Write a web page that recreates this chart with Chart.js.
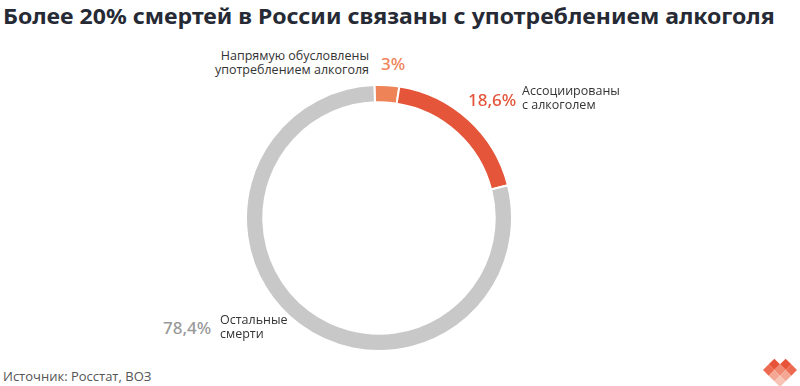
<!DOCTYPE html>
<html>
<head>
<meta charset="utf-8">
<script src="https://cdn.jsdelivr.net/npm/chart.js@4/dist/chart.umd.min.js"></script>
<style>
  html, body { margin: 0; padding: 0; background: #fff; }
  body { width: 800px; height: 386px; position: relative; overflow: hidden; font-family: "Open Sans", sans-serif; }
  #title { position: absolute; left: 3px; top: 0px; font: 700 22px "Noto Sans", sans-serif; color: #262a35; white-space: nowrap; transform-origin: 0 0; }
  #wrap { position: absolute; left: 245px; top: 84px; width: 268px; height: 268px; }
  .lbl { position: absolute; white-space: nowrap; }
  .name { font: 400 12.5px "Open Sans", sans-serif; color: #333; line-height: 14px; }
  .pct { font: 500 17px "Noto Sans", sans-serif; }
  #src { position: absolute; left: 3px; top: 367px; font: 400 13px "Open Sans", sans-serif; color: #555; }
  #logo { position: absolute; left: 761px; top: 352px; }
</style>
</head>
<body>
<div id="title">Более 20% смертей в России связаны с употреблением алкоголя</div>
<div id="wrap"><canvas id="donut"></canvas></div>
<div id="labels"></div>
<div id="src">Источник: Росстат, ВОЗ</div>
<svg id="logo" width="38" height="34" viewBox="0 0 38 34">
  <g transform="translate(19,1) rotate(45)">
    <rect x="8" y="0" width="8" height="8" fill="#e8543a"/>
    <rect x="0" y="8" width="8" height="8" fill="#e8543a"/>
    <rect x="16" y="0" width="8" height="8" fill="#ec6a4f"/>
    <rect x="8" y="8" width="8" height="8" fill="#f08a73"/>
    <rect x="0" y="16" width="8" height="8" fill="#ec6a4f"/>
    <rect x="16" y="8" width="8" height="8" fill="#f4a794"/>
    <rect x="8" y="16" width="8" height="8" fill="#f4a794"/>
    <rect x="16" y="16" width="8" height="8" fill="#f8c4b6"/>
  </g>
</svg>
<script>
// данные диаграммы
var categories = ['Напрямую обусловлены\nупотреблением алкоголя', 'Ассоциированы\nс алкоголем', 'Остальные\nсмерти'];
var shares = [3, 18.6, 78.4];
var shareText = ['3%', '18,6%', '78,4%'];
var colors = ['#ef8358', '#e4553a', '#c8c8c8'];
var pctColors = ['#ef8358', '#e4553a', '#9a9a9a'];

// подписи: [x, y, выравнивание] для процента и названия
var pctPos = [[381, 52, 'left'], [468, 88, 'left'], [163, 316, 'left']];
var namePos = [[369, 49, 'right'], [522, 84, 'left'], [220, 313, 'left']];

var labelsDiv = document.getElementById('labels');
categories.forEach(function(c, i) {
  var p = document.createElement('div');
  p.className = 'lbl pct';
  p.style.color = pctColors[i];
  p.style.top = pctPos[i][1] + 'px';
  p.style.left = pctPos[i][0] + 'px';
  p.textContent = shareText[i];
  labelsDiv.appendChild(p);

  var n = document.createElement('div');
  n.className = 'lbl name';
  n.style.top = namePos[i][1] + 'px';
  if (namePos[i][2] == 'right') {
    n.style.right = (800 - namePos[i][0]) + 'px';
    n.style.textAlign = 'right';
  } else {
    n.style.left = namePos[i][0] + 'px';
  }
  n.innerHTML = c.replace('\n', '<br>');
  labelsDiv.appendChild(n);
});

// растянуть заголовок до ширины оригинала
var t = document.getElementById('title');
t.style.transform = 'scaleX(' + (772 / t.offsetWidth) + ')';

var ctx = document.getElementById('donut').getContext('2d');
var myChart = new Chart(ctx, {
  type: 'doughnut',
  data: {
    labels: categories,
    datasets: [{
      data: shares,
      backgroundColor: colors,
      borderColor: '#fff',
      borderWidth: 2
    }]
  },
  options: {
    responsive: true,
    maintainAspectRatio: false,
    animation: false,
    cutout: '87%',
    rotation: -2,
    plugins: {
      legend: { display: false },
      tooltip: { enabled: false }
    }
  }
});
</script>
</body>
</html>
